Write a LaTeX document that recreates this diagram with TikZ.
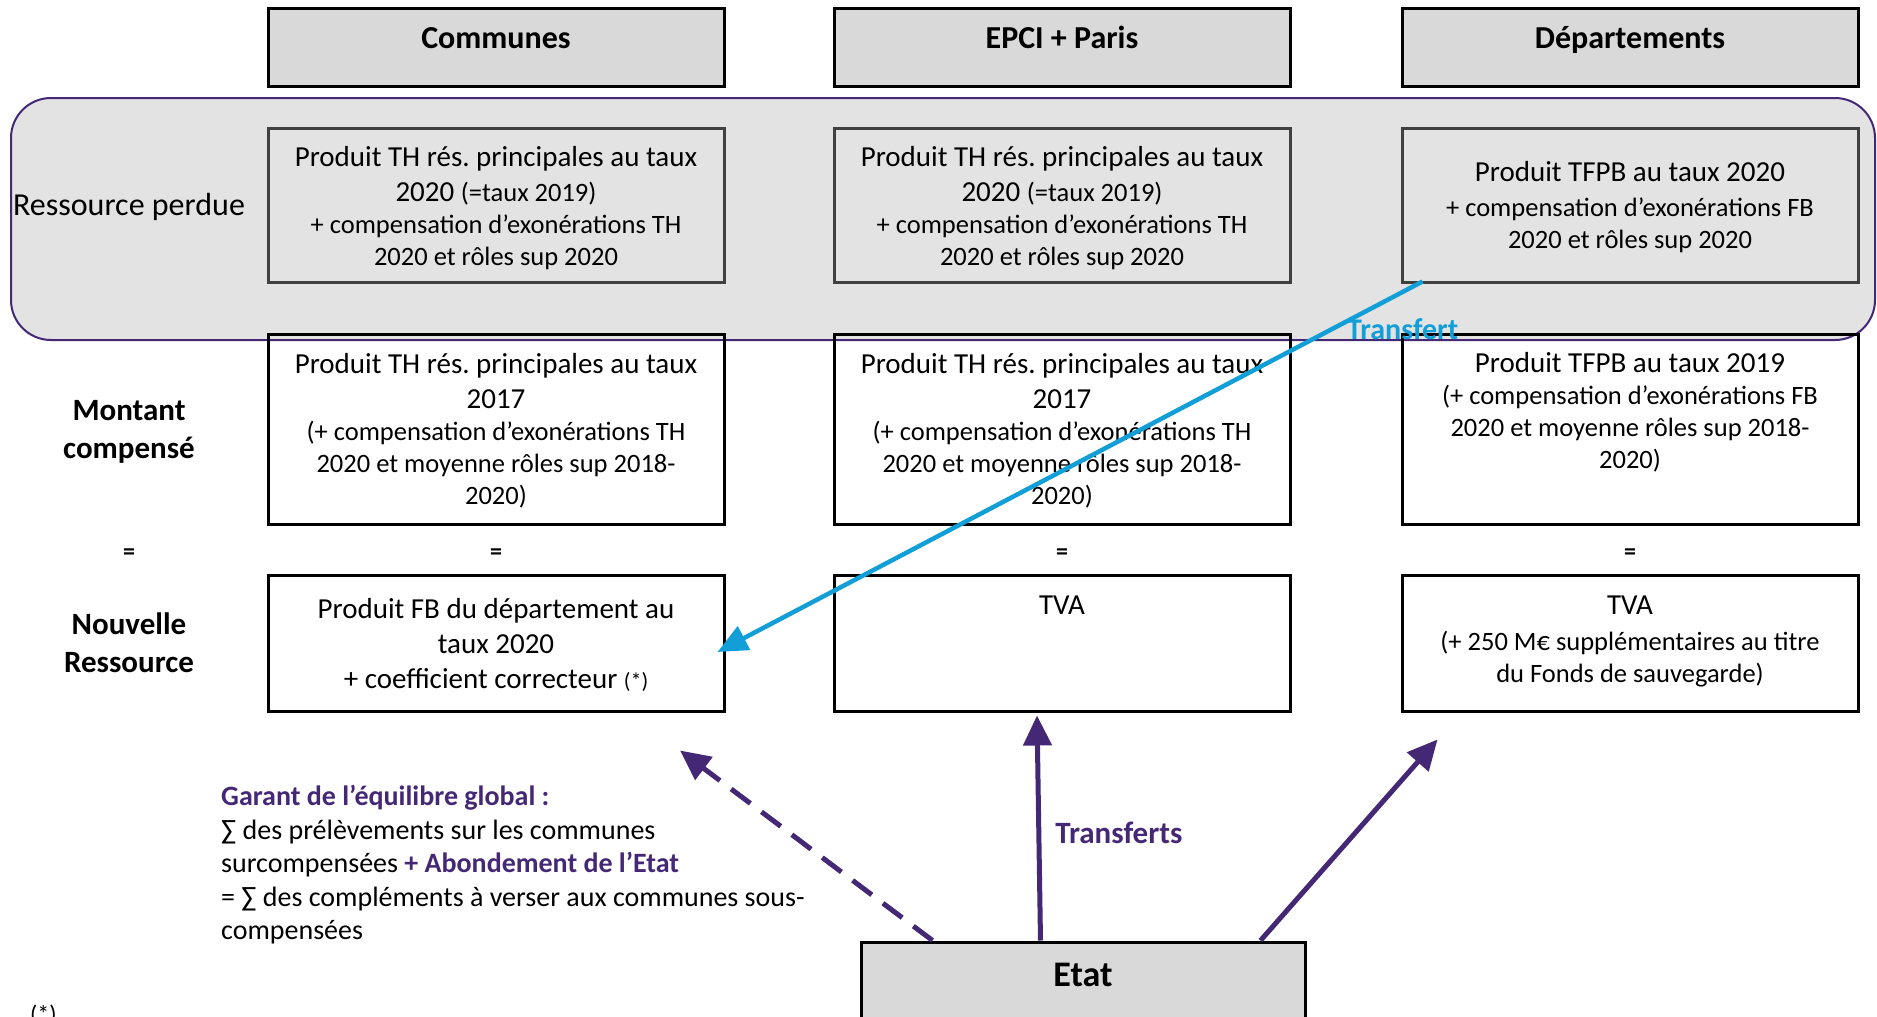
\documentclass[tikz,border=0pt]{standalone}
\usepackage{fontspec}
\setmainfont{Carlito}
\frenchspacing
\usetikzlibrary{positioning,calc,arrows.meta}

\definecolor{etatviolet}{RGB}{68,40,118}
\definecolor{transcyan}{RGB}{18,158,214}
\definecolor{panelgray}{RGB}{227,227,227}
\definecolor{headgray}{RGB}{217,217,217}
\definecolor{boxline}{RGB}{64,64,64}

\newcommand\txtbig{\fontsize{29}{35}\selectfont}
\newcommand\txtsmall{\fontsize{26.5}{32}\selectfont}

% textes communs aux communes et EPCI
\newcommand\thlost{Produit TH rés. principales au taux\\2020 {\txtsmall(=taux 2019)}\par
  {\txtsmall + compensation d’exonérations TH\\2020 et rôles sup 2020\par}}
\newcommand\thcomp{Produit TH rés. principales au taux\\2017\par
  {\txtsmall(+ compensation d’exonérations TH\\2020 et moyenne rôles sup 2018-\\2020)\par}}

\tikzset{
  headbox/.style={draw=black, line width=3pt, fill=headgray, minimum width=456pt,
    inner sep=0pt, text height=40pt, text depth=38pt,
    font=\fontsize{32}{38}\selectfont\bfseries},
  lostbox/.style={draw=boxline, line width=3pt, fill=panelgray, minimum width=456pt,
    minimum height=154pt, inner sep=0pt},
  compbox/.style={draw=black, line width=3pt, minimum width=456pt, minimum height=190pt, inner sep=0pt},
  newbox/.style={draw=black, line width=3pt, fill=white, minimum width=456pt,
    minimum height=136pt, inner sep=0pt},
  boxtext/.style={anchor=north, align=flush center, text width=440pt, inner sep=0pt, font=\txtbig},
  rowlabel/.style={align=center, inner sep=0pt, font=\fontsize{31}{38}\selectfont\bfseries},
  eqsign/.style={anchor=base, inner sep=0pt, font=\fontsize{24}{28}\selectfont\bfseries},
  etatbox/.style={draw=black, line width=3pt, fill=headgray, minimum width=444pt,
    inner sep=0pt, text height=44pt, text depth=76pt,
    font=\fontsize{36}{40}\selectfont\bfseries},
  etatarrow/.style={draw=etatviolet, line width=5pt, -{Triangle[length=30pt,width=28pt]}},
  transfert/.style={draw=transcyan, line width=4.5pt, -{Triangle[length=30pt,width=26pt]}},
}

\begin{document}
\begin{tikzpicture}[x=1pt,y=-1pt]
\useasboundingbox (0,0) rectangle (1877,1017);

% bandeau ressource perdue
\draw[draw=etatviolet, line width=2pt, fill=panelgray, rounded corners=40pt]
  (11,98) rectangle (1875,340);

% colonnes
\foreach \cx/\nm in {496/com, 1062/epci, 1630/dep} {
  \node[lostbox] (\nm-lost) at (\cx,205) {};
  \node[compbox] (\nm-comp) at (\cx,429) {};
  \node[newbox] (\nm-new) at (\cx,643) {};
  \node[eqsign] (\nm-eq) at (\cx,559) {=};
}

\node[headbox] (com-head) at (496,47) {Communes};
\node[headbox] (epci-head) at (1062,47) {EPCI + Paris};
\node[headbox] (dep-head) at (1630,47) {Départements};

% ressource perdue
\foreach \nm/\cx in {com/496, epci/1062}
  \node[boxtext] (\nm-lost-txt) at (\cx,146) {\thlost};
\node[boxtext] (dep-lost-txt) at (1630,161)
  {Produit TFPB au taux 2020\par\vspace{3pt}
   {\txtsmall + compensation d’exonérations FB\\2020 et rôles sup 2020\par}};

% montant compense
\foreach \nm/\cx in {com/496, epci/1062}
  \node[boxtext] (\nm-comp-txt) at (\cx,353) {\thcomp};
\node[boxtext] (dep-comp-txt) at (1630,352)
  {Produit TFPB au taux 2019\par
   {\txtsmall(+ compensation d’exonérations FB\\2020 et moyenne rôles sup 2018-\\2020)\par}};

% nouvelle ressource
\node[boxtext] (com-new-txt) at (496,598)
  {Produit FB du département au\\taux 2020\\+ coefficient correcteur {\fontsize{22}{35}\selectfont(*)}};
\node[boxtext] (epci-new-txt) at (1062,596) {TVA};
\node[boxtext] (dep-new-txt) at (1630,596)
  {TVA\par\vspace{4pt}
   {\txtsmall(+ 250 M€ supplémentaires au titre\\du Fonds de sauvegarde)\par}};

% libelles de lignes
\node[inner sep=0pt, font=\fontsize{32}{38}\selectfont] (lbl-lost) at (129,207) {Ressource perdue};
\node[rowlabel] (lbl-comp) at (129,432) {Montant\\compensé};
\node[eqsign] (lbl-eq) at (129,559) {=};
\node[rowlabel] (lbl-new) at (129,643) {Nouvelle\\Ressource};

% etat
\node[etatbox] (etat) at (1083,1002) {Etat};

\node[anchor=north west, align=left, inner sep=0pt, font=\fontsize{28}{33.5}\selectfont] (garant) at (221,785)
  {{\color{etatviolet}\bfseries Garant de l’équilibre global :}\\
   ∑ des prélèvements sur les communes\\
   surcompensées {\color{etatviolet}\bfseries + Abondement de l’Etat}\\
   = ∑ des compléments à verser aux communes sous-\\
   compensées};

\node[anchor=base west, inner sep=0pt, font=\fontsize{24}{28}\selectfont] (renvoi) at (30,1022) {(*)};

% fleches
\coordinate (tr-start) at ($(dep-lost.south west)+(22,-2)$);
\coordinate (tr-end) at ($(com-new.east)+(-8,9)$);
\draw[transfert] (tr-start) -- (tr-end)
  node[pos=0.13, right=14pt, inner sep=0pt, text=transcyan, font=\fontsize{30}{34}\selectfont\bfseries] (tr-lbl) {Transfert};

\coordinate (et-a) at ($(etat.north west)+(73,0)$);
\coordinate (et-b) at ($(etat.north west)+(181,0)$);
\coordinate (et-c) at ($(etat.north west)+(401,0)$);
\coordinate (to-com) at ($(com-new.south)+(184,38)$);
\coordinate (to-epci) at ($(epci-new.south)+(-25,3)$);
\coordinate (to-dep) at ($(dep-new.south west)+(37,27)$);

\draw[etatarrow, dash pattern=on 24pt off 14pt] (et-a) -- (to-com);
\draw[etatarrow] (et-b) -- (to-epci)
  node[pos=0.48, right=14pt, inner sep=0pt, text=etatviolet, font=\fontsize{31}{34}\selectfont\bfseries] (tr-etat) {Transferts};
\draw[etatarrow] (et-c) -- (to-dep);

\end{tikzpicture}
\end{document}
